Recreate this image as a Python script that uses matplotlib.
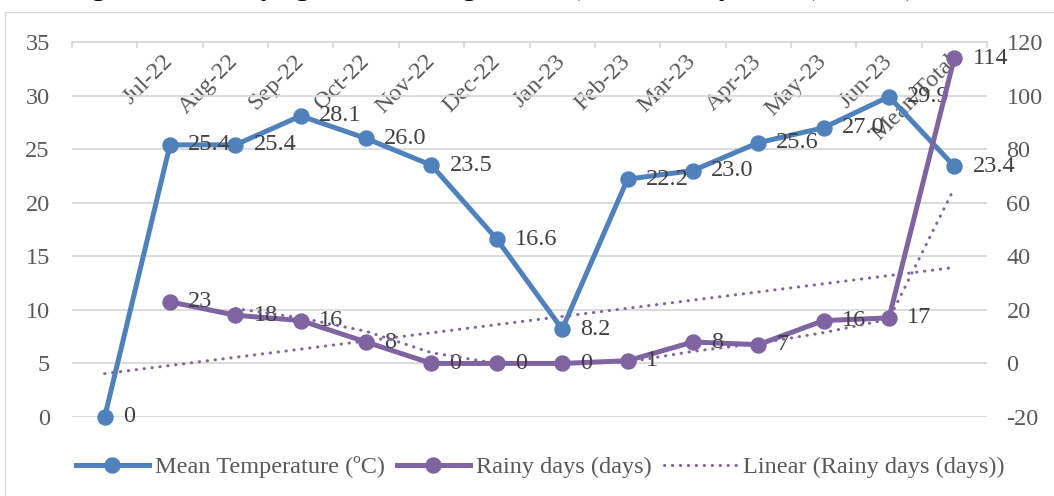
import numpy as np
import pandas as pd
import matplotlib
matplotlib.use("Agg")
import matplotlib.pyplot as plt
from matplotlib.patches import Rectangle

# ---------------- data ----------------
categories = ["", "Jul-22", "Aug-22", "Sep-22", "Oct-22", "Nov-22", "Dec-22",
              "Jan-23", "Feb-23", "Mar-23", "Apr-23", "May-23", "Jun-23", "Mean/Total"]
mean_temperature = [0, 25.4, 25.4, 28.1, 26.0, 23.5, 16.6, 8.2, 22.2, 23.0, 25.6, 27.0, 29.9, 23.4]
rainy_days = [np.nan, 23, 18, 16, 8, 0, 0, 0, 1, 8, 7, 16, 17, 114]
left_ticks = [0, 5, 10, 15, 20, 25, 30, 35]
right_ticks = [-20, 0, 20, 40, 60, 80, 100, 120]
title = "Figure 3 Monthly agro-meteorological data) of the study area, (2022/23)"

# ---------------- style ----------------
plt.rcParams['font.family'] = ['Liberation Serif', 'DejaVu Serif']
plt.rcParams['axes.unicode_minus'] = False
BLUE = '#4F81BD'
PURPLE = '#8064A2'
GRID = '#D9D9D9'
TXT = '#595959'
LBL = '#404040'
FS = 17.5

W, H = 1054, 496
fig = plt.figure(figsize=(W / 100, H / 100), dpi=100)
ax = fig.add_axes([72 / W, 79 / H, 915 / W, 375 / H])
ax2 = ax.twinx()

x = np.arange(len(categories))
temp = np.array(mean_temperature, dtype=float)
rain = np.array(rainy_days, dtype=float)

l1, = ax.plot(x, temp, color=BLUE, lw=3.6, marker='o', ms=10.8, clip_on=False,
              solid_joinstyle='round', label='Mean Temperature (ºC)', zorder=3)
for xi, v in zip(x, temp):
    s = "0" if v == 0 else f"{v:.1f}"
    ax.annotate(s, (xi, v), xytext=(13, 0), textcoords='offset points',
                ha='left', va='center', fontsize=FS, color=LBL, zorder=4)

l2, = ax2.plot(x, rain, color=PURPLE, lw=3.6, marker='o', ms=10.8, clip_on=False,
               solid_joinstyle='round', label='Rainy days (days)', zorder=3)
for xi, v in zip(x, rain):
    if np.isnan(v):
        continue
    ax2.annotate(f"{v:.0f}", (xi, v), xytext=(13, 0), textcoords='offset points',
                 ha='left', va='center', fontsize=FS, color=LBL, zorder=4)

# linear trendline of rainy days
valid = ~np.isnan(rain)
coef = np.polyfit(x[valid], rain[valid], 1)
trend = np.polyval(coef, x)
dot = (0, (0.1, 2.5))
l3, = ax2.plot(x, trend, color=PURPLE, lw=2.2, linestyle=dot, dash_capstyle='round',
               label='Linear (Rainy days (days))', zorder=5)
# 2-period moving average trendline
ma = pd.Series(rain).rolling(2).mean().to_numpy()
ax2.plot(x, ma, color=PURPLE, lw=2.2, linestyle=dot, dash_capstyle='round', zorder=5)

# ---------------- axes ----------------
ax.set_xlim(-0.5, len(categories) - 0.5)
ax.set_ylim(left_ticks[0], left_ticks[-1])
ax2.set_ylim(right_ticks[0], right_ticks[-1])
ax.set_yticks(left_ticks)
ax2.set_yticks(right_ticks)

ax.set_xticks(x)
ax.set_xticklabels(categories, rotation=45, ha='right', va='center',
                   rotation_mode='anchor', fontsize=FS, color=TXT)
ax.tick_params(axis='x', which='major', bottom=False, labelbottom=False,
               top=False, labeltop=True, length=0, pad=-11.5)
ax.set_xticks(np.arange(-0.5, len(categories), 1.0), minor=True)
ax.tick_params(axis='x', which='minor', bottom=False, top=True, direction='in',
               length=4, width=1.3, color=GRID)

ax.tick_params(axis='y', length=0, pad=16, labelsize=FS, labelcolor=TXT)
ax2.tick_params(axis='y', length=0, pad=14, labelsize=FS, labelcolor=TXT)

for a in (ax, ax2):
    for s in ('left', 'right', 'bottom'):
        a.spines[s].set_visible(False)
    a.spines['top'].set_color(GRID)
    a.spines['top'].set_linewidth(1.3)
    a.patch.set_visible(False)

ax.yaxis.grid(True, color=GRID, lw=1.3)
ax.set_axisbelow(True)

# ---------------- legend, frame, title ----------------
fig.legend([l1, l2, l3], [l1.get_label(), l2.get_label(), l3.get_label()],
           loc='center', bbox_to_anchor=(540 / W, 29 / H), ncol=3, frameon=False,
           fontsize=FS, handlelength=3.0, handletextpad=0.25, columnspacing=0.5,
           labelcolor=TXT)

fig.patches.append(Rectangle((5 / W, -0.1), 1.2, (H - 12) / H + 0.1,
                             transform=fig.transFigure, fill=False,
                             ec=GRID, lw=1.0))
fig.text(67 / W, 1 + 5 / H, title, fontsize=20, fontweight='bold',
         va='baseline', ha='left', color='black')

fig.savefig("out.png", dpi=100)
